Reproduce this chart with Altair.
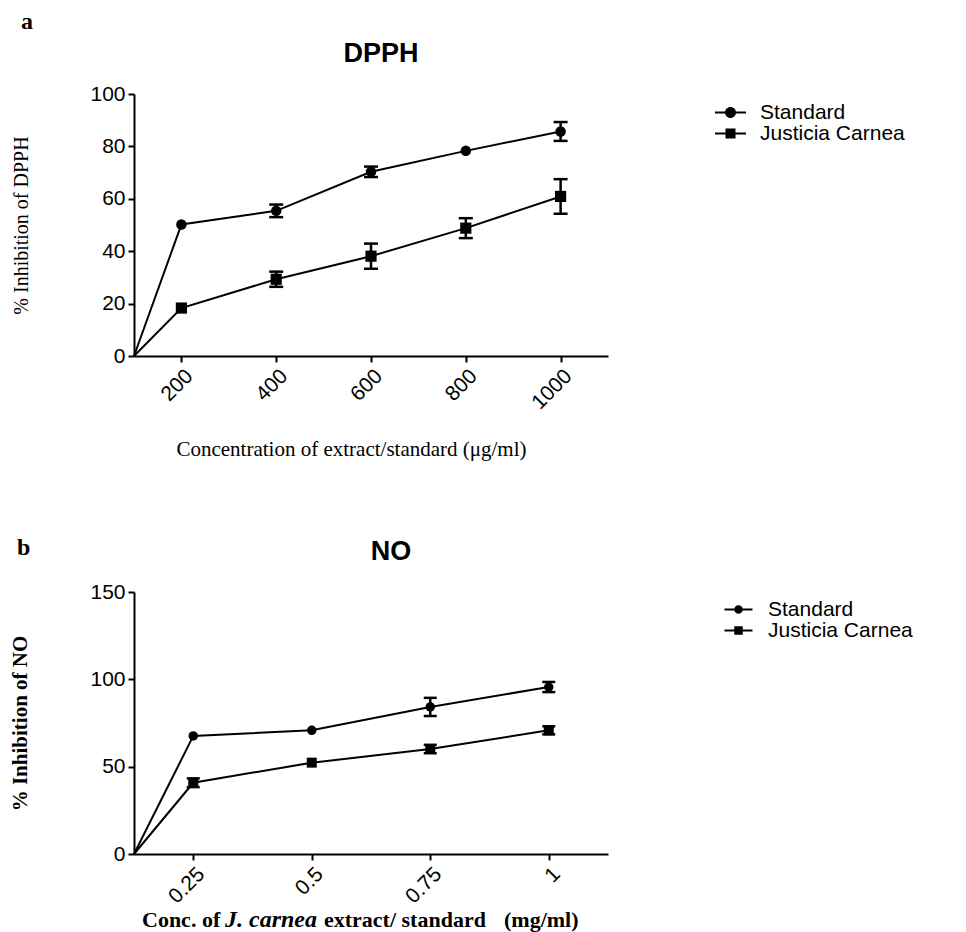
import altair as alt
import pandas as pd

# ---------------- data ----------------
series_names = ["Standard", "Justicia Carnea"]

# Panel a: DPPH
dpph_conc = [200, 400, 600, 800, 1000]
dpph_standard = [50.2, 55.4, 70.3, 78.3, 85.7]
dpph_standard_err = [0.0, 2.4, 2.0, 0.0, 3.6]
dpph_jc = [18.3, 29.3, 38.1, 48.8, 60.9]
dpph_jc_err = [0.0, 2.9, 4.8, 3.8, 6.6]
dpph_x_domain = [100, 1100]
dpph_y_ticks = [0, 20, 40, 60, 80, 100]

# Panel b: NO
no_conc = [0.25, 0.5, 0.75, 1.0]
no_standard = [67.6, 70.8, 84.2, 95.6]
no_standard_err = [0.0, 0.0, 5.2, 2.9]
no_jc = [40.8, 52.3, 60.1, 70.8]
no_jc_err = [2.5, 0.0, 2.4, 2.3]
no_x_domain = [0.125, 1.125]
no_y_ticks = [0, 50, 100, 150]


def make_df(conc, std, std_err, jc, jc_err, x0):
    rows = []
    for name, vals, errs in [(series_names[0], std, std_err), (series_names[1], jc, jc_err)]:
        # every curve starts at the axis origin
        rows.append({"conc": x0, "val": 0.0, "err": 0.0, "lo": 0.0, "hi": 0.0,
                     "series": name, "origin": 1})
        for c, v, e in zip(conc, vals, errs):
            rows.append({"conc": c, "val": v, "err": e, "lo": v - e, "hi": v + e,
                         "series": name, "origin": 0})
    return pd.DataFrame(rows)


W, H = 474, 262
SANS = "Liberation Sans"
SERIF = "Liberation Serif"


def legend_paths(half, r, sq):
    t = 0.2  # half thickness of the connecting line (scaled by 5 px)
    bar = f"M{-half},{-t}L{half},{-t}L{half},{t}L{-half},{t}Z"
    circ = f"M{-r},0A{r},{r},0,1,1,{r},0A{r},{r},0,1,1,{-r},0Z"
    square = f"M{-sq},{-sq}L{sq},{-sq}L{sq},{sq}L{-sq},{sq}Z"
    return bar + circ, bar + square


def panel(df, x_axis, x_domain, y_axis, y_domain, paths,
          legend_xy, marker_size, cap_size, extra):
    base = alt.Chart(df)
    x = alt.X("conc:Q", scale=alt.Scale(domain=x_domain, nice=False, zero=False), axis=x_axis)
    y = alt.Y("val:Q", scale=alt.Scale(domain=y_domain, nice=False), axis=y_axis)
    ylo = alt.Y("lo:Q", scale=alt.Scale(domain=y_domain, nice=False), axis=y_axis)
    yhi = alt.Y("hi:Q", scale=alt.Scale(domain=y_domain, nice=False), axis=y_axis)

    lines = base.mark_line(color="black", strokeWidth=2).encode(x=x, y=y, detail="series:N")
    errs = base.transform_filter("datum.err > 0")
    rule = errs.mark_rule(color="black", strokeWidth=2.5).encode(x=x, y=ylo, y2="hi:Q")
    cap_lo = errs.mark_tick(color="black", orient="horizontal", size=cap_size,
                            thickness=2.5, opacity=1).encode(x=x, y=ylo)
    cap_hi = errs.mark_tick(color="black", orient="horizontal", size=cap_size,
                            thickness=2.5, opacity=1).encode(x=x, y=yhi)
    pts = base.transform_filter("datum.origin == 0")
    p_std = pts.transform_filter(alt.datum.series == series_names[0]).mark_point(
        shape="circle", filled=True, size=marker_size[0], color="black", opacity=1
    ).encode(x=x, y=y)
    p_jc = pts.transform_filter(alt.datum.series == series_names[1]).mark_point(
        shape="square", filled=True, size=marker_size[1], color="black", opacity=1
    ).encode(x=x, y=y)

    legend_layer = base.transform_filter("false").mark_point(
        filled=True, color="black", opacity=1
    ).encode(
        x=x, y=y,
        shape=alt.Shape(
            "series:N",
            scale=alt.Scale(domain=series_names, range=list(paths)),
            legend=alt.Legend(
                title=None, orient="none", legendX=legend_xy[0], legendY=legend_xy[1],
                labelFont=SANS, labelFontSize=21, labelColor="black",
                symbolSize=100, symbolFillColor="black", symbolOpacity=1,
                labelOffset=19, padding=0, rowPadding=-6,
            ),
        ),
    )
    return alt.layer(lines, rule, cap_lo, cap_hi, p_std, p_jc, legend_layer, *extra).properties(
        width=W, height=H
    )


def text_layer(txt, x, y, **kw):
    return alt.Chart(pd.DataFrame({"t": [txt]})).mark_text(color="black", **kw).encode(
        text="t:N", x=alt.value(x), y=alt.value(y)
    )


title_kw = dict(font=SANS, fontSize=27, fontWeight="bold", align="center", baseline="middle")
panel_kw = dict(font=SERIF, fontSize=24, fontWeight="bold", align="left", baseline="alphabetic")

# ---------------- panel a ----------------
df_a = make_df(dpph_conc, dpph_standard, dpph_standard_err, dpph_jc, dpph_jc_err, dpph_x_domain[0])
xa = alt.Axis(values=dpph_conc, format="d", labelAngle=-45, labelFontSize=21,
              title="Concentration of extract/standard (μg/ml)", titleFont=SERIF,
              titleFontSize=21, titleFontWeight="normal", titleX=217, titleY=93,
              titleAlign="center", titleBaseline="middle")
ya = alt.Axis(values=dpph_y_ticks, labelFontSize=21, title="% Inhibition of DPPH",
              titleFont=SERIF, titleFontSize=20, titleFontWeight="normal",
              titleX=-113, titleY=H / 2, titleAngle=-90, titleAlign="center",
              titleBaseline="middle")
extra_a = [
    text_layer("a", -113, -65, **panel_kw),
    text_layer("DPPH", 247, -40, **title_kw),
]
chart_a = panel(
    df_a, xa, dpph_x_domain, ya, [0, 100],
    legend_paths(3.1, 1.1, 1.0),
    (586, 8), (110, 125), 14, extra_a,
)

# ---------------- panel b ----------------
df_b = make_df(no_conc, no_standard, no_standard_err, no_jc, no_jc_err, no_x_domain[0])
xb = alt.Axis(values=no_conc, format=".2~f", labelAngle=-45, labelFontSize=21, title=None)
yb = alt.Axis(values=no_y_ticks, labelFontSize=21, title="% Inhibition of NO",
              titleFont=SERIF, titleFontSize=21, titleFontWeight="bold",
              titleX=-114, titleY=H / 2, titleAngle=-90, titleAlign="center",
              titleBaseline="middle")
xt_kw = dict(font=SERIF, fontWeight="bold", align="left", baseline="middle")
extra_b = [
    text_layer("b", -117, -37, **panel_kw),
    text_layer("NO", 257, -40, **title_kw),
    text_layer("Conc. of", 8, 328, fontSize=22, **xt_kw),
    text_layer("J. carnea", 91, 328, fontSize=24, fontStyle="italic", **xt_kw),
    text_layer("extract/ standard", 190, 328, fontSize=22, **xt_kw),
    text_layer("(mg/ml)", 370, 328, fontSize=22, **xt_kw),
]
chart_b = panel(
    df_b, xb, no_x_domain, yb, [0, 150],
    legend_paths(2.8, 0.85, 0.85),
    (594, 7), (90, 100), 13, extra_b,
)

chart = alt.concat(chart_a, chart_b, columns=1, spacing=77, align="none").resolve_scale(
    x="independent", y="independent", shape="independent"
).resolve_legend(shape="independent").properties(
    padding={"left": 0, "top": 2, "right": 5, "bottom": 0}
).configure_view(stroke=None).configure_axis(
    grid=False, domainColor="black", domainWidth=2, tickColor="black", tickWidth=2,
    tickSize=6, labelColor="black", labelFont=SANS, titleColor="black", labelPadding=3
)

chart.save("out.html", embed_options={"renderer": "svg", "actions": False})
